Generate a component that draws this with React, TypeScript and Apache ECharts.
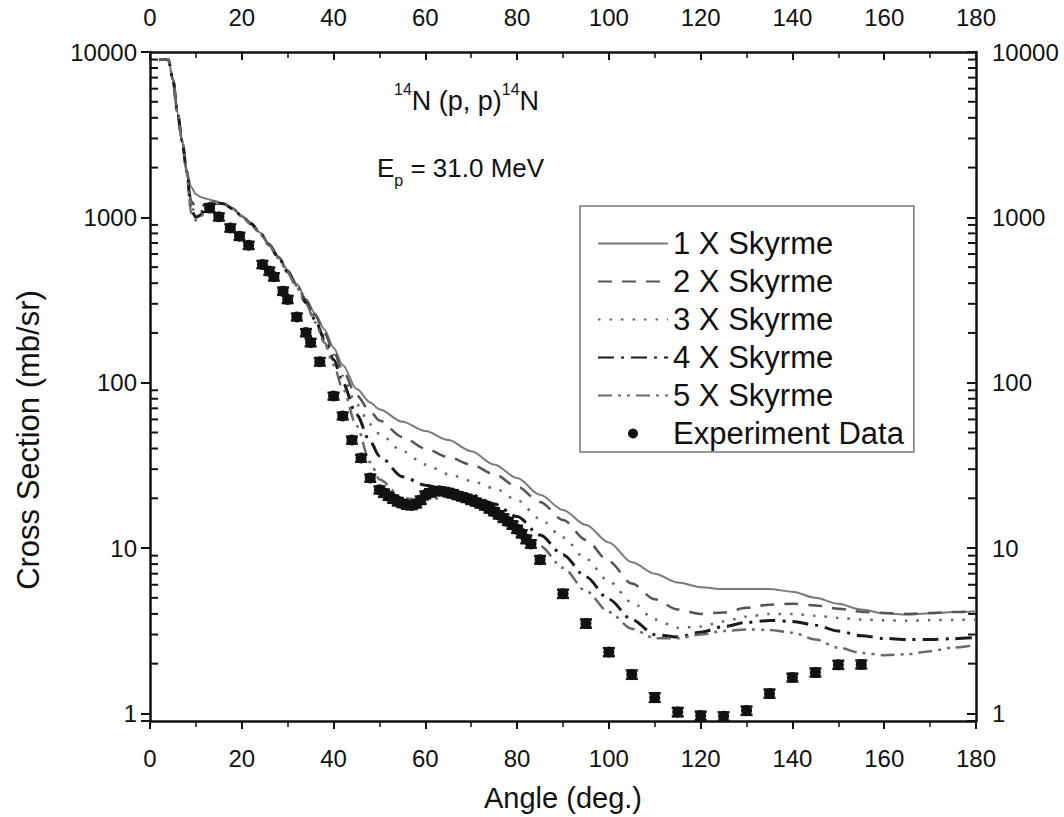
import React, { useEffect, useRef } from "react";
import * as echarts from "echarts";

const FONT = "'Liberation Sans', Arial, Helvetica, sans-serif";

// Angles (deg) at which the theoretical curves are sampled
const curveAngles = [
  2, 4, 5, 6, 7, 8, 9, 10, 11, 12, 14, 16, 18, 20, 22, 24, 26, 28, 30, 32, 34, 36, 38, 40, 42, 45, 48, 50,
  55, 60, 65, 70, 75, 80, 85, 90, 95, 100, 105, 110, 115, 120, 125, 130, 135, 140, 145, 150, 155, 160, 165,
  170, 175, 180,
];

const skyrme1 = [
  9000, 9000, 6800, 4300, 2900, 1900, 1520, 1380, 1330, 1300, 1260, 1210, 1130, 1020, 920, 810, 690, 580, 480,
  395, 320, 262, 210, 163, 128, 92, 76, 69, 58, 51, 45, 38.5, 32, 26.5, 21, 17, 13.8, 10.8, 8.2, 7.0, 6.2, 5.8,
  5.65, 5.65, 5.65, 5.45, 5.0, 4.6, 4.25, 4.03, 3.97, 4.03, 4.1, 4.15,
];
const skyrme2 = [
  9000, 9000, 6800, 4300, 2900, 1900, 1250, 1150, 1150, 1200, 1240, 1210, 1130, 1020, 920, 805, 685, 575, 475,
  390, 315, 255, 200, 155, 118, 84, 67, 59, 47, 40, 35.5, 32, 28, 23.5, 19, 14.8, 11.2, 8.3, 6.1, 4.9, 4.25,
  4.0, 4.08, 4.35, 4.55, 4.6, 4.5, 4.3, 4.12, 4.05, 4.0, 4.05, 4.1, 4.15,
];
const skyrme3 = [
  9000, 9000, 6800, 4300, 2900, 1900, 1150, 1050, 1080, 1150, 1230, 1210, 1130, 1020, 915, 800, 680, 570, 470,
  385, 310, 248, 192, 148, 110, 74, 56, 49, 38.5, 32, 28, 25.5, 23, 19.5, 15, 11.6, 8.6, 6.3, 4.7, 3.7, 3.3,
  3.35, 3.6, 3.85, 4.0, 4.0, 3.9, 3.78, 3.7, 3.66, 3.64, 3.66, 3.68, 3.7,
];
const skyrme4 = [
  9000, 9000, 6800, 4300, 2900, 1900, 1100, 1000, 1030, 1120, 1220, 1210, 1130, 1020, 915, 800, 680, 568, 468,
  380, 305, 240, 183, 138, 100, 64, 44, 36, 27, 24, 22.5, 21, 18.5, 15.5, 12, 9.1, 6.7, 4.9, 3.7, 3.0, 2.9,
  3.1, 3.35, 3.55, 3.65, 3.6, 3.42, 3.15, 2.95, 2.84, 2.8, 2.8, 2.83, 2.88,
];
const skyrme5 = [
  9000, 9000, 6800, 4300, 2900, 1900, 1050, 960, 1000, 1100, 1210, 1200, 1125, 1015, 910, 795, 675, 565, 465,
  375, 300, 232, 175, 128, 92, 55, 33, 26, 20, 19.5, 20.5, 19.5, 17, 13.8, 10.3, 7.6, 5.5, 4.1, 3.25, 2.85,
  2.85, 3.0, 3.15, 3.22, 3.2, 3.08, 2.8, 2.5, 2.32, 2.25, 2.28, 2.38, 2.5, 2.6,
];

// Experimental data
const expAngles = [
  13, 15, 17.5, 19.5, 21.5, 24.5, 26, 27, 29, 30, 32, 34, 35, 37, 40, 42, 44, 46, 48,
  50, 51, 52, 53, 54, 55, 56, 57, 58, 59, 60, 61, 62, 63, 64, 65, 66, 67, 68, 69, 70, 71, 72, 73, 74, 75, 76,
  77, 78, 79, 80, 81, 82, 83,
  85, 90, 95, 100, 105, 110, 115, 120, 125, 130, 135, 140, 145, 150, 155,
];
const expValues = [
  1140, 1007, 863, 769, 678, 519, 473, 437, 358, 319, 250, 201, 175, 134, 83, 63, 45, 35, 26.5,
  22.5, 21.5, 20.6, 19.8, 19.1, 18.6, 18.2, 18.1, 18.5, 19.5, 21, 21.6, 22, 22.2, 22, 21.7, 21.3, 20.8, 20.4,
  20, 19.5, 19, 18.5, 18, 17.3, 16.6, 15.9, 15.2, 14.5, 13.8, 13, 12.2, 11.3, 10.6,
  8.5, 5.3, 3.5, 2.35, 1.72, 1.25, 1.02, 0.97, 0.96, 1.04, 1.32, 1.65, 1.77, 1.97, 1.98,
];
const expErrors = [
  60, 50, 43, 38, 34, 26, 24, 22, 18, 16, 12, 10, 9, 7, 4, 3, 2.2, 1.7, 1.3,
  1.1, 1.1, 1.0, 1.0, 1.0, 0.9, 0.9, 0.9, 0.9, 1.0, 1.0, 1.1, 1.1, 1.1, 1.1, 1.1, 1.1, 1.0, 1.0,
  1.0, 1.0, 0.9, 0.9, 0.9, 0.9, 0.8, 0.8, 0.8, 0.7, 0.7, 0.65, 0.6, 0.6, 0.55,
  0.45, 0.3, 0.2, 0.13, 0.1, 0.075, 0.06, 0.055, 0.055, 0.06, 0.075, 0.09, 0.1, 0.11, 0.11,
];

// Minor tick positions on the logarithmic y axes
const minorLogTicks = [
  2, 3, 4, 5, 6, 7, 8, 9, 20, 30, 40, 50, 60, 70, 80, 90, 200, 300, 400, 500, 600, 700, 800, 900, 2000, 3000,
  4000, 5000, 6000, 7000, 8000, 9000,
];

const xMin = 0;
const xMax = 180;
const xInterval = 20;
const yMin = 0.9;
const yMax = 10000;

const seriesNames = ["1 X Skyrme", "2 X Skyrme", "3 X Skyrme", "4 X Skyrme", "5 X Skyrme", "Experiment Data"];

const logLabel = (v: number) => {
  const l = Math.log10(v);
  return Math.abs(l - Math.round(l)) < 1e-6 ? String(Math.round(v)) : "";
};

export default function App() {
  const ref = useRef<HTMLDivElement>(null);

  useEffect(() => {
    if (!ref.current) return;
    const chart = echarts.init(ref.current, undefined, { renderer: "svg" });

    const axisLineStyle = { color: "#111", width: 2.5 };
    const labelStyle = { fontSize: 24, color: "#111", fontFamily: FONT };

    const makeX = (pos: "bottom" | "top") => ({
      type: "value",
      position: pos,
      min: xMin,
      max: xMax,
      interval: xInterval,
      axisLine: { show: true, onZero: false, lineStyle: axisLineStyle },
      axisTick: { show: true, inside: pos === "top", length: 8, lineStyle: { color: "#111", width: 2 } },
      minorTick: { show: true, splitNumber: 2, length: 6, lineStyle: { color: "#111", width: 1.5 } },
      axisLabel: { ...labelStyle, margin: pos === "top" ? 23 : 25 },
      splitLine: { show: false },
      ...(pos === "bottom"
        ? {
            name: "Angle (deg.)",
            nameLocation: "middle",
            nameGap: 62,
            nameTextStyle: { fontSize: 29, color: "#111", fontFamily: FONT },
          }
        : {}),
    });

    const makeY = (pos: "left" | "right") => ({
      type: "log",
      logBase: 10,
      position: pos,
      min: yMin,
      max: yMax,
      axisLine: { show: true, onZero: false, lineStyle: axisLineStyle },
      axisTick: { show: true, inside: pos === "right", length: 9, lineStyle: { color: "#111", width: 2 } },
      axisLabel: { ...labelStyle, margin: pos === "left" ? 13 : 16, formatter: logLabel },
      splitLine: { show: false },
      minorTick: { show: false },
    });

    const lineSeries = (name: string, values: number[], color: string, width: number, dash: any) => ({
      type: "line",
      name,
      xAxisIndex: 0,
      yAxisIndex: 0,
      data: curveAngles.map((a, i) => [a, values[i]]),
      symbol: "none",
      showSymbol: false,
      smooth: 0.3,
      smoothMonotone: "x",
      lineStyle: { color, width, type: dash },
      itemStyle: { color },
      z: 3,
    });

    const hiddenSymbol = { opacity: 0, color: "rgba(0,0,0,0)", borderWidth: 0 };

    const option: any = {
      animation: false,
      backgroundColor: "#fff",
      grid: { left: 150, right: 88, top: 52, bottom: 94, containLabel: false },
      xAxis: [makeX("bottom"), makeX("top")],
      yAxis: [makeY("left"), makeY("right")],
      legend: {
        data: [
          { name: seriesNames[0], itemStyle: hiddenSymbol },
          { name: seriesNames[1], itemStyle: hiddenSymbol },
          { name: seriesNames[2], itemStyle: hiddenSymbol },
          { name: seriesNames[3], itemStyle: hiddenSymbol },
          { name: seriesNames[4], itemStyle: hiddenSymbol },
          { name: seriesNames[5], icon: "circle" },
        ],
        orient: "vertical",
        left: 580,
        top: 206,
        itemWidth: 70,
        itemHeight: 10,
        itemGap: 7,
        padding: [22, 10, 3, 17],
        borderColor: "#777",
        borderWidth: 1.5,
        backgroundColor: "#fff",
        selectedMode: false,
        textStyle: { fontSize: 31, lineHeight: 30, color: "#111", fontFamily: FONT },
      },
      graphic: [
        {
          type: "text",
          x: 394,
          y: 81,
          style: {
            text: "{sup|14}{n|N (p, p)}{sup|14}{n|N}",
            textAlign: "left",
            textVerticalAlign: "top",
            fill: "#111",
            rich: {
              n: { fontSize: 27, lineHeight: 40, fontFamily: FONT, fill: "#111" },
              sup: { fontSize: 16, lineHeight: 16, verticalAlign: "top", fontFamily: FONT, fill: "#111" },
            },
          },
        },
        {
          type: "text",
          x: 377,
          y: 148,
          style: {
            text: "{n|E}{sub|p}{n| = 31.0 MeV}",
            textAlign: "left",
            textVerticalAlign: "top",
            fill: "#111",
            rich: {
              n: { fontSize: 26, lineHeight: 40, fontFamily: FONT, fill: "#111" },
              sub: { fontSize: 16, lineHeight: 6, verticalAlign: "bottom", fontFamily: FONT, fill: "#111" },
            },
          },
        },
        {
          type: "text",
          x: 28,
          y: 440,
          rotation: Math.PI / 2,
          style: {
            text: "Cross Section (mb/sr)",
            fontSize: 31,
            fontFamily: FONT,
            fill: "#111",
            textAlign: "center",
            textVerticalAlign: "middle",
          },
        },
      ],
      series: [
        lineSeries(seriesNames[0], skyrme1, "#7a7a7a", 2, "solid"),
        lineSeries(seriesNames[1], skyrme2, "#555", 2.5, [14, 10]),
        lineSeries(seriesNames[2], skyrme3, "#666", 2.5, [2.5, 9]),
        lineSeries(seriesNames[3], skyrme4, "#1a1a1a", 3, [16, 7, 3, 7]),
        lineSeries(seriesNames[4], skyrme5, "#6a6a6a", 2.5, [14, 6, 3, 6, 3, 6]),
        {
          type: "custom",
          name: "errors",
          xAxisIndex: 0,
          yAxisIndex: 0,
          data: expAngles.map((a, i) => [a, expValues[i], expErrors[i]]),
          z: 4,
          renderItem: (params: any, api: any) => {
            const x = api.value(0);
            const y = api.value(1);
            const e = api.value(2);
            const hi = api.coord([x, y + e]);
            const lo = api.coord([x, y - e]);
            const w = 6;
            const st = { stroke: "#111", lineWidth: 2.5 };
            return {
              type: "group",
              children: [
                { type: "line", shape: { x1: hi[0], y1: hi[1], x2: lo[0], y2: lo[1] }, style: st },
                { type: "line", shape: { x1: hi[0] - w, y1: hi[1], x2: hi[0] + w, y2: hi[1] }, style: st },
                { type: "line", shape: { x1: lo[0] - w, y1: lo[1], x2: lo[0] + w, y2: lo[1] }, style: st },
              ],
            };
          },
        },
        {
          type: "scatter",
          name: seriesNames[5],
          xAxisIndex: 0,
          yAxisIndex: 0,
          data: expAngles.map((a, i) => [a, expValues[i]]),
          symbol: "circle",
          symbolSize: 11,
          itemStyle: { color: "#111", opacity: 1 },
          z: 5,
        },
        {
          type: "custom",
          name: "minorTicks",
          xAxisIndex: 0,
          yAxisIndex: 0,
          silent: true,
          data: minorLogTicks.map((v) => [xMin, v]),
          z: 6,
          renderItem: (params: any, api: any) => {
            const v = api.value(1);
            const pl = api.coord([xMin, v]);
            const pr = api.coord([xMax, v]);
            const st = { stroke: "#111", lineWidth: 2 };
            return {
              type: "group",
              children: [
                { type: "line", shape: { x1: pl[0], y1: pl[1], x2: pl[0] + 8, y2: pl[1] }, style: st },
                { type: "line", shape: { x1: pr[0], y1: pr[1], x2: pr[0] - 8, y2: pr[1] }, style: st },
              ],
            };
          },
        },
      ],
    };

    chart.setOption(option);
    return () => chart.dispose();
  }, []);

  return (
    <div
      ref={ref}
      style={{ position: "fixed", left: 0, top: 0, width: 1064, height: 817, background: "#fff" }}
    />
  );
}
